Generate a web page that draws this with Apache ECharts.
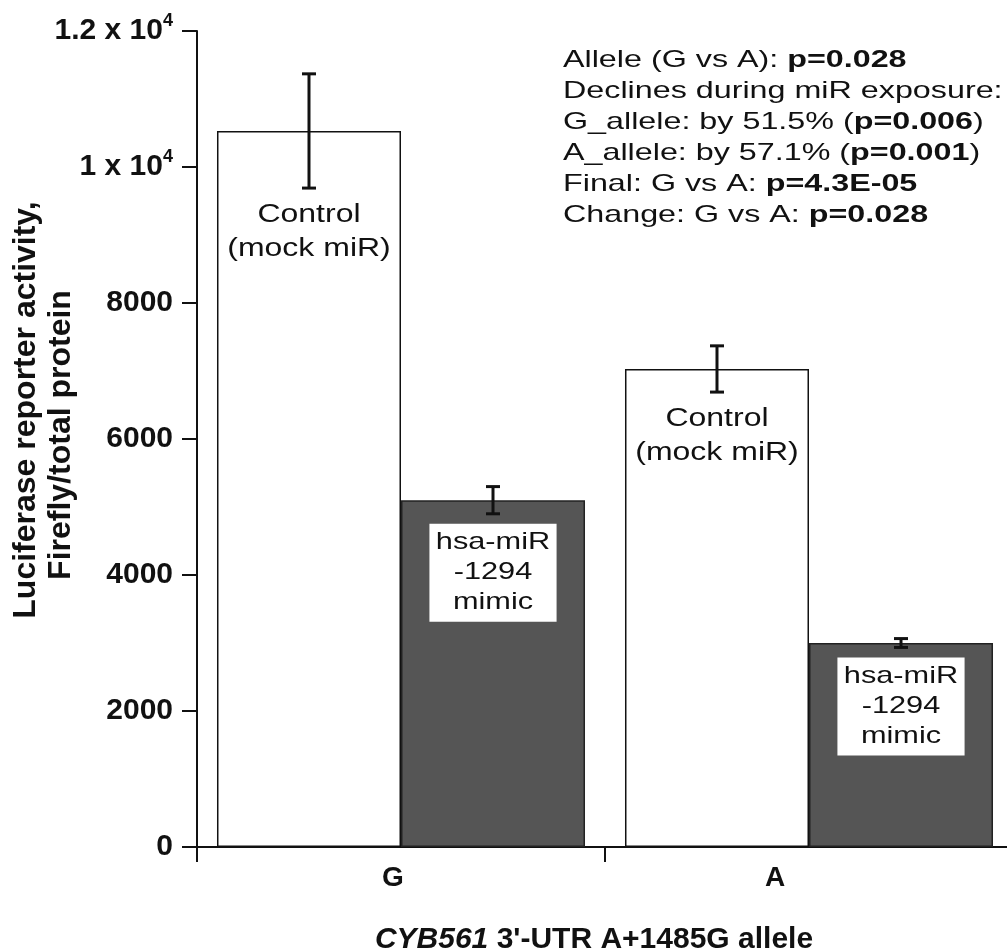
<!DOCTYPE html>
<html>
<head>
<meta charset="utf-8">
<script src="https://cdn.jsdelivr.net/npm/echarts@6.0.0/dist/echarts.min.js"></script>
<style>html,body{margin:0;background:#fff}#chart{width:1007px;height:951px}</style>
</head>
<body>
<div id="chart"></div>
<script>
// values
const categories = ['G', 'A'];
const controlMean = [10530, 7030];
const controlErr = [840, 340];
const mimicMean = [5100, 3000];
const mimicErr = [200, 65];
const yTickLabels = {0: '0', 2000: '2000', 4000: '4000', 6000: '6000', 8000: '8000',
  10000: '1 x 10{sup|4}', 12000: '1.2 x 10{sup|4}'};
const controlLabel = 'Control\n(mock miR)';
const mimicLabel = 'hsa-miR\n-1294\nmimic';
const statLines = [
  'Allele (G vs A): {b|p=0.028}',
  'Declines during miR exposure:',
  'G_allele: by 51.5% ({b|p=0.006})',
  'A_allele: by 57.1% ({b|p=0.001})',
  'Final: G vs A: {b|p=4.3E-05}',
  'Change: G vs A: {b|p=0.028}'
];

const FONT = 'Liberation Sans';
const GAP = 0.098;

// error bar + label under its low end
function errRender(side, label, boxed) {
  return function (params, api) {
    const cat = api.value(0), mean = api.value(1), err = api.value(2);
    const band = api.size([1, 0])[0];
    const bw = band * (1 - GAP) / 2;
    const cx = api.coord([cat, 0])[0] + side * bw / 2;
    const hi = api.coord([cat, mean + err])[1];
    const lo = api.coord([cat, mean - err])[1];
    const cap = 7;
    const ls = {stroke: '#111', lineWidth: 3};
    const txt = {
      text: label, fill: '#111', fontSize: boxed ? 24 : 25, fontFamily: FONT,
      align: 'center', verticalAlign: 'top', lineHeight: boxed ? 30 : 34
    };
    if (boxed) {
      txt.backgroundColor = '#fff';
      txt.padding = [4, 5, 4, 5];
    }
    return {
      type: 'group',
      children: [
        {type: 'line', shape: {x1: cx, y1: hi, x2: cx, y2: lo}, style: ls},
        {type: 'line', shape: {x1: cx - cap, y1: hi, x2: cx + cap, y2: hi}, style: ls},
        {type: 'line', shape: {x1: cx - cap, y1: lo, x2: cx + cap, y2: lo}, style: ls},
        {type: 'text', x: cx, y: lo + 10, scaleX: 1.28, style: txt}
      ]
    };
  };
}

const chart = echarts.init(document.getElementById('chart'));
chart.setOption({
  animation: false,
  backgroundColor: '#fff',
  grid: {left: 197, top: 31, width: 816, height: 816, outerBoundsMode: 'none', containLabel: false},
  xAxis: {
    type: 'category',
    data: [
      {value: categories[0], textStyle: {padding: [0, 16, 0, 0]}},
      {value: categories[1], textStyle: {padding: [0, 68, 0, 0]}}
    ],
    axisLine: {lineStyle: {color: '#111', width: 2}},
    axisTick: {show: true, length: 15, lineStyle: {color: '#111', width: 2}},
    axisLabel: {fontSize: 28, fontWeight: 'bold', fontFamily: FONT, color: '#111', margin: 17},
    name: '{i|CYB561} 3\'-UTR A+1485G allele',
    nameLocation: 'middle',
    nameGap: 78,
    nameMoveOverlap: false,
    nameTextStyle: {
      fontSize: 30, fontWeight: 'bold', fontFamily: FONT, color: '#111', padding: [0, 22, 0, 0],
      rich: {i: {fontSize: 30, fontWeight: 'bold', fontStyle: 'italic', fontFamily: FONT, color: '#111'}}
    }
  },
  yAxis: {
    type: 'value',
    min: 0, max: 12000, interval: 2000,
    splitLine: {show: false},
    axisLine: {show: true, lineStyle: {color: '#111', width: 2}},
    axisTick: {show: true, length: 15, lineStyle: {color: '#111', width: 2}},
    axisLabel: {
      fontSize: 30, fontWeight: 'bold', fontFamily: FONT, color: '#111', margin: 24,
      formatter: v => yTickLabels[v],
      rich: {sup: {fontSize: 18, fontWeight: 'bold', fontFamily: FONT, color: '#111', padding: [0, 0, 20, 0]}}
    },
    name: '{a|Luciferase reporter activity,}\n{b|Firefly/total protein}',
    nameLocation: 'middle',
    nameRotate: 90,
    nameGap: 118,
    nameMoveOverlap: false,
    nameTextStyle: {
      rich: {
        a: {fontSize: 32, fontWeight: 'bold', fontFamily: FONT, color: '#111', lineHeight: 35, padding: [0, 0, 0, 58]},
        b: {fontSize: 32, fontWeight: 'bold', fontFamily: FONT, color: '#111', lineHeight: 35, padding: [0, 0, 0, 8]}
      }
    }
  },
  series: [
    {
      type: 'bar', data: controlMean, barGap: '0%', barCategoryGap: (GAP * 100) + '%',
      itemStyle: {color: '#fff', borderColor: '#111', borderWidth: 1.5}
    },
    {
      type: 'bar', data: mimicMean,
      itemStyle: {color: '#555', borderColor: '#222', borderWidth: 1.5}
    },
    {
      type: 'custom', z: 5,
      data: categories.map((c, i) => [i, controlMean[i], controlErr[i]]),
      renderItem: errRender(-1, controlLabel, false)
    },
    {
      type: 'custom', z: 5,
      data: categories.map((c, i) => [i, mimicMean[i], mimicErr[i]]),
      renderItem: errRender(1, mimicLabel, true)
    }
  ],
  graphic: [{
    type: 'text', x: 563, y: 45, scaleX: 1.345,
    style: {
      text: statLines.join('\n'), fill: '#111', fontSize: 24, fontFamily: FONT, lineHeight: 31,
      rich: {b: {fontSize: 24, fontWeight: 'bold', fontFamily: FONT, lineHeight: 31, fill: '#111'}}
    }
  }]
});
</script>
</body>
</html>
